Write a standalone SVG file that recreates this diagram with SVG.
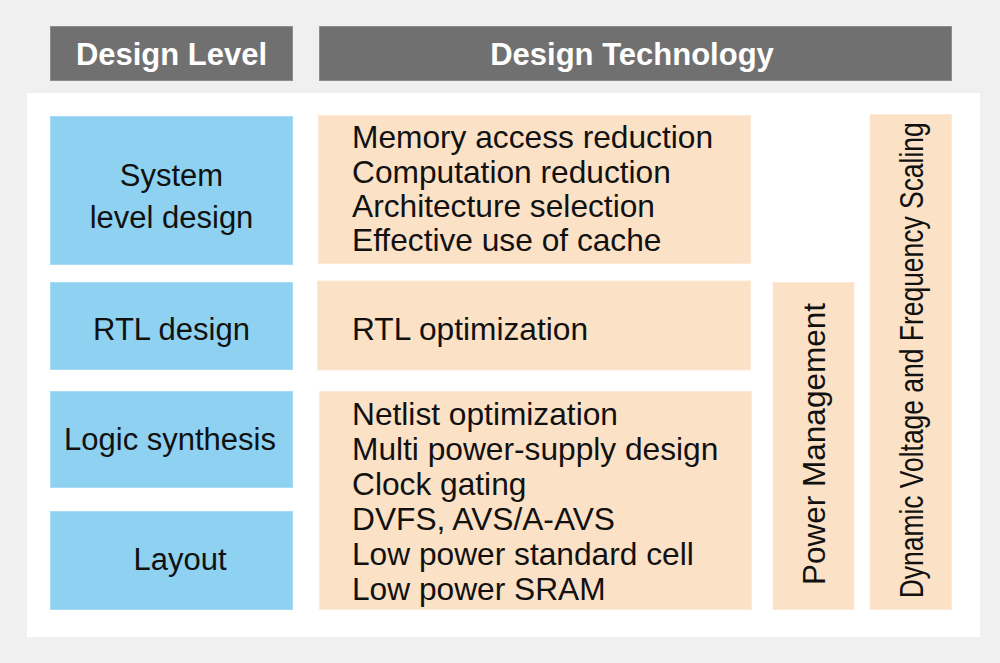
<svg xmlns="http://www.w3.org/2000/svg" width="1000" height="663" viewBox="0 0 1000 663">
<style>
.hdr{fill:#717071;stroke:#8e8d8e;stroke-width:1}
.hdrt{font-family:"Liberation Sans",Arial,sans-serif;font-weight:bold;font-size:31px;fill:#ffffff;text-anchor:middle}
.lvl{fill:#8fd1f0;stroke:#a8dcf4;stroke-width:1}
.tech{fill:#fbe1c6;stroke:#fde9d6;stroke-width:1}
.t{font-family:"Liberation Sans",Arial,sans-serif;font-size:31px;fill:#111111}
.tl{font-size:31.7px}
.c{text-anchor:middle}
</style>
<rect x="0" y="0" width="1000" height="663" fill="#f0f0f0"/>
<rect x="27" y="93" width="953" height="544" fill="#ffffff"/>
<g id="header-design-level">
<rect class="hdr" x="50.5" y="26.5" width="242" height="54"/>
<text class="hdrt" x="171.5" y="65">Design Level</text>
</g>
<g id="header-design-technology">
<rect class="hdr" x="319.5" y="26.5" width="632" height="54"/>
<text class="hdrt" x="632" y="65">Design Technology</text>
</g>
<g id="level-system">
<rect class="lvl" x="50.5" y="116.5" width="242" height="148"/>
<text class="t c" x="171.5" y="186">System</text>
<text class="t c" x="171.5" y="227.5">level design</text>
</g>
<g id="level-rtl">
<rect class="lvl" x="50.5" y="282.5" width="242" height="87"/>
<text class="t c" x="171.5" y="339.5">RTL design</text>
</g>
<g id="level-logic">
<rect class="lvl" x="50.5" y="391.5" width="242" height="96"/>
<text class="t c" x="170" y="449.5">Logic synthesis</text>
</g>
<g id="level-layout">
<rect class="lvl" x="50.5" y="511.5" width="242" height="98"/>
<text class="t c" x="180" y="570">Layout</text>
</g>
<g id="tech-system">
<rect class="tech" x="318.5" y="115.5" width="432" height="148"/>
<text class="t tl" x="352" y="147.5">Memory access reduction</text>
<text class="t tl" x="352" y="182.5">Computation reduction</text>
<text class="t tl" x="352" y="216.7">Architecture selection</text>
<text class="t tl" x="352" y="250.7">Effective use of cache</text>
</g>
<g id="tech-rtl">
<rect class="tech" x="317.5" y="281" width="433" height="89"/>
<text class="t tl" x="352" y="339.5">RTL optimization</text>
</g>
<g id="tech-logic-layout">
<rect class="tech" x="319.5" y="391.5" width="432" height="218"/>
<text class="t tl" x="352" y="425">Netlist optimization</text>
<text class="t tl" x="352" y="460">Multi power-supply design</text>
<text class="t tl" x="352" y="495">Clock gating</text>
<text class="t tl" x="352" y="530">DVFS, AVS/A-AVS</text>
<text class="t tl" x="352" y="565">Low power standard cell</text>
<text class="t tl" x="352" y="599.5">Low power SRAM</text>
</g>
<g id="tech-power-management">
<rect class="tech" x="773" y="282.5" width="81" height="327"/>
<text class="t" transform="translate(825,585) rotate(-90)" style="font-size:32px" textLength="282" lengthAdjust="spacingAndGlyphs">Power Management</text>
</g>
<g id="tech-dvfs">
<rect class="tech" x="870" y="114.5" width="81.5" height="495"/>
<text class="t" transform="translate(923.3,598.3) rotate(-90)" style="font-size:33px" textLength="476" lengthAdjust="spacingAndGlyphs">Dynamic Voltage and Frequency Scaling</text>
</g>
<g id="connectors"></g>
</svg>
